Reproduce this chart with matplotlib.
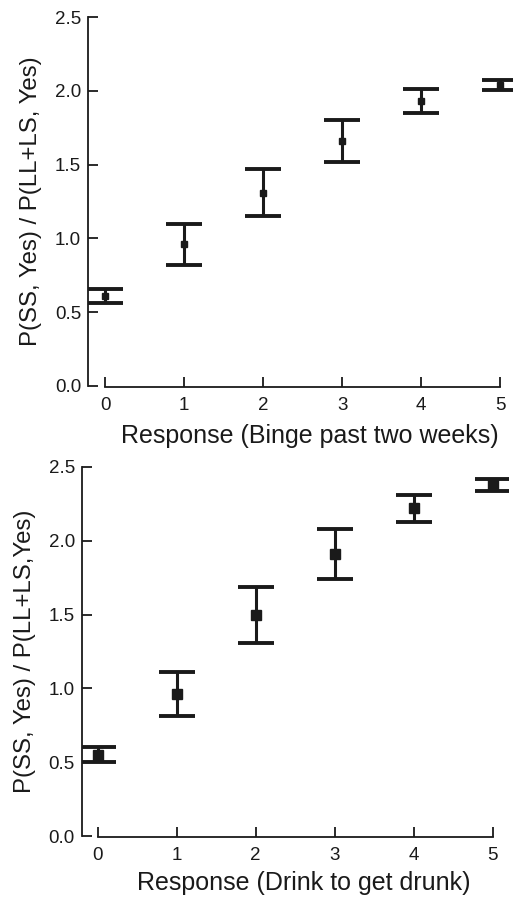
import matplotlib
matplotlib.use("Agg")
import matplotlib.pyplot as plt

plt.rcParams['font.family'] = ['Liberation Sans', 'DejaVu Sans']

responses = [0, 1, 2, 3, 4, 5]
x_ticklabels = ['0', '1', '2', '3', '4', '5']
y_ticks = [0.0, 0.5, 1.0, 1.5, 2.0, 2.5]

binge_mean = [0.61, 0.96, 1.31, 1.66, 1.93, 2.04]
binge_err = [0.045, 0.14, 0.16, 0.14, 0.08, 0.035]

drunk_mean = [0.55, 0.96, 1.50, 1.91, 2.22, 2.38]
drunk_err = [0.05, 0.15, 0.19, 0.17, 0.09, 0.04]

panels = [
    dict(mean=binge_mean, err=binge_err,
         xlabel='Response (Binge past two weeks)',
         ylabel='P(SS, Yes) / P(LL+LS, Yes)',
         rect=[0.169, 0.5697, 0.814, 0.4113], xlim=(-0.215, 5.15), ms=5,
         xlab_pos=(0.524, -0.104)),
    dict(mean=drunk_mean, err=drunk_err,
         xlabel='Response (Drink to get drunk)',
         ylabel='P(SS, Yes) / P(LL+LS,Yes)',
         rect=[0.157, 0.068, 0.818, 0.4114], xlim=(-0.2, 5.19), ms=6.5,
         xlab_pos=(0.52, -0.096)),
]

fig = plt.figure(figsize=(5.21, 8.97), dpi=100)
for p in panels:
    ax = fig.add_axes(p['rect'])
    ax.errorbar(responses, p['mean'], yerr=p['err'], fmt='s', color='#1a1a1a',
                ms=p['ms'], elinewidth=2.2, capsize=13.3, capthick=2.8)
    ax.set_xlim(*p['xlim'])
    ax.set_ylim(0, 2.5)
    ax.spines['top'].set_visible(False)
    ax.spines['right'].set_visible(False)
    ax.spines['bottom'].set_bounds(0, 5)
    ax.spines['bottom'].set_position(('outward', 1))
    for s in ('left', 'bottom'):
        ax.spines[s].set_linewidth(1.3)
        ax.spines[s].set_color('#1a1a1a')
    ax.set_xticks(responses)
    ax.set_xticklabels(x_ticklabels)
    ax.set_yticks(y_ticks)
    ax.set_yticklabels(['%.1f' % v for v in y_ticks])
    ax.tick_params(direction='in', length=7, width=1.3, labelsize=13.5,
                   color='#1a1a1a', labelcolor='#1a1a1a')
    ax.tick_params(axis='x', pad=7)
    ax.tick_params(axis='y', pad=5)
    ax.set_xlabel(p['xlabel'], fontsize=18, color='#1a1a1a')
    ax.xaxis.set_label_coords(*p['xlab_pos'])
    ax.set_ylabel(p['ylabel'], fontsize=17.3, labelpad=9, color='#1a1a1a')

fig.savefig('out.png', dpi=100)
